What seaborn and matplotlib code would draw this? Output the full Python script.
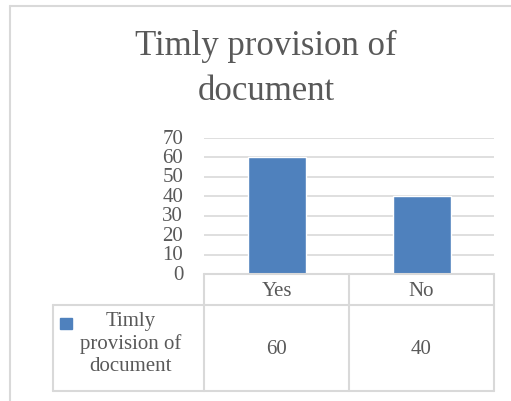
import matplotlib
matplotlib.use("Agg")
import matplotlib.pyplot as plt
import seaborn as sns
import pandas as pd
from matplotlib.lines import Line2D
from matplotlib.patches import Rectangle
from matplotlib.transforms import blended_transform_factory, Affine2D

# ---- data ----
categories = ["Yes", "No"]
values = [60, 40]
series_name = "Timly\nprovision of\ndocument"
title = "Timly provision of\ndocument"
yticks = [0, 10, 20, 30, 40, 50, 60, 70]

BAR = "#4F81BD"
GRID = "#D9D9D9"
TXT = "#595959"
FONT = "Liberation Serif"

sns.set_theme(style="white")
plt.rcParams["font.family"] = [FONT, "DejaVu Serif"]

W, H = 511, 402
fig = plt.figure(figsize=(W / 100, H / 100), dpi=100)
fig.patch.set_facecolor("white")

# pixel transform (origin at top-left)
pix = Affine2D().scale(1 / W, -1 / H).translate(0, 1) + fig.transFigure

# outer chart border
fig.add_artist(Line2D([10, 10], [7, 420], transform=pix, color=GRID, lw=1.5))
fig.add_artist(Line2D([10, 520], [7, 7], transform=pix, color=GRID, lw=1.5))

ax = fig.add_axes([204 / W, 1 - 275 / H, (494 - 204) / W, (275 - 139) / H])
df = pd.DataFrame({"cat": categories, "val": values})
sns.barplot(data=df, x="cat", y="val", color=BAR, width=0.4, saturation=1, ax=ax, zorder=3)
ax.set_ylim(0, 70)
ax.set_xlim(-0.5, 1.5)
ax.set_yticks(yticks)
ax.set_yticklabels([str(t) for t in yticks], fontsize=15, color=TXT)
ax.tick_params(axis="y", length=0, pad=15)
ax.set_xticks([])
ax.set_xlabel("")
ax.set_ylabel("")
for s in ax.spines.values():
    s.set_visible(False)
for t in yticks[1:]:
    ax.axhline(t, color=GRID, lw=1.2, zorder=1)
for lab in ax.get_yticklabels():
    lab.set_verticalalignment("center")

# title
fig.text(266 / W, 1 - 69 / H, title, ha="center", va="center", fontsize=25,
         color=TXT, linespacing=1.45)

# data table
def hline(x0, x1, y):
    fig.add_artist(Line2D([x0, x1], [y, y], transform=pix, color=GRID, lw=1.5))

def vline(x, y0, y1):
    fig.add_artist(Line2D([x, x], [y0, y1], transform=pix, color=GRID, lw=1.5))

hline(204, 494, 275)
hline(53, 494, 306)
hline(53, 494, 392)
vline(53, 306, 392)
vline(204, 275, 392)
vline(349, 275, 392)
vline(494, 275, 392)

bt = blended_transform_factory(ax.transData, pix)
for i, (c, v) in enumerate(zip(categories, values)):
    fig.text(i, 292, c, transform=bt, ha="center", va="center", fontsize=15, color=TXT)
    fig.text(i, 350, str(v), transform=bt, ha="center", va="center", fontsize=15, color=TXT)

fig.add_artist(Rectangle((60, 330), 12, -11, transform=pix, color=BAR))
fig.text(131 / W, 1 - 344 / H, series_name,
         ha="center", va="center", fontsize=15, color=TXT, linespacing=1.2)

fig.savefig("out.png", dpi=100, facecolor="white")
